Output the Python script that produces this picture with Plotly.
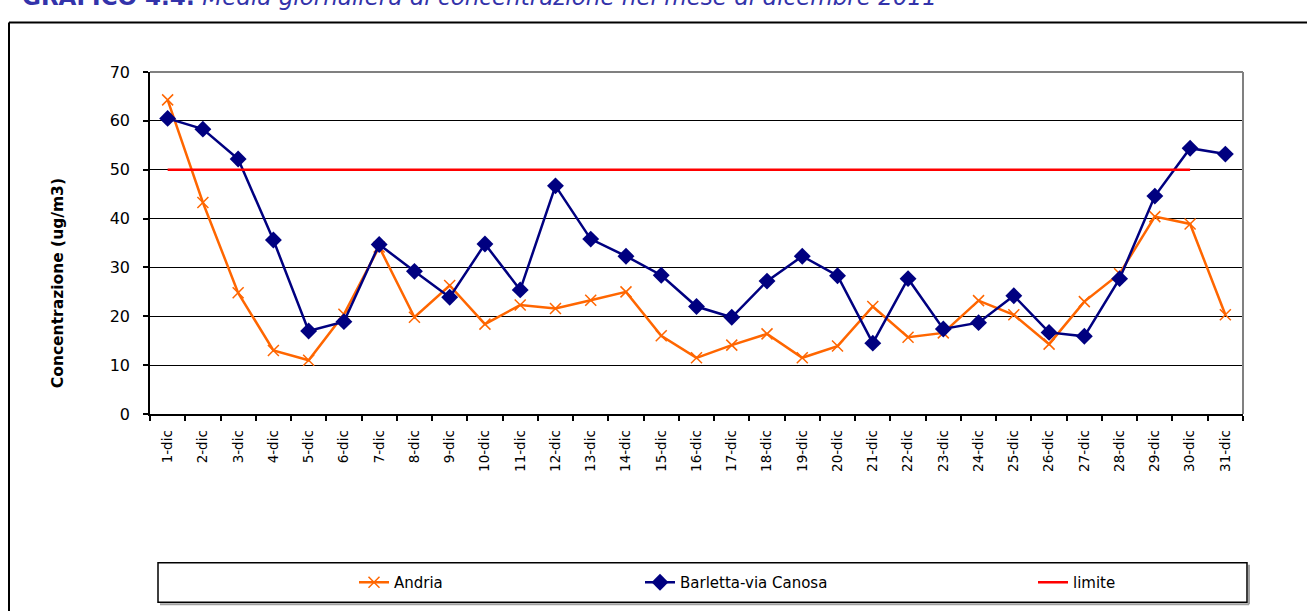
import plotly.graph_objects as go

days = [f"{i}-dic" for i in range(1, 32)]
andria = [64.3, 43.3, 24.8, 13.0, 11.0, 20.4, 34.2, 19.8, 26.3, 18.4, 22.3, 21.6, 23.3, 25.0,
          16.0, 11.5, 14.1, 16.4, 11.5, 13.9, 22.0, 15.7, 16.6, 23.2, 20.3, 14.3, 23.0, 28.7,
          40.4, 38.9, 20.3]
barletta = [60.5, 58.3, 52.2, 35.6, 17.0, 18.9, 34.7, 29.2, 23.9, 34.8, 25.4, 46.7, 35.8, 32.3,
            28.4, 22.0, 19.8, 27.2, 32.3, 28.3, 14.5, 27.7, 17.4, 18.7, 24.2, 16.7, 15.9, 27.7,
            44.6, 54.4, 53.2]
limite = [50] * 30 + [None]
y_ticks = [0, 10, 20, 30, 40, 50, 60, 70]

W, H = 1307, 611
L, R, T, B = 150, 1243, 72, 417
pw, ph = R - L, B - T


def px(x):
    return (x - L) / pw


def py(y):
    return (B - y) / ph


FONT = "Liberation Sans, Arial, sans-serif"
WFONT = "DejaVu Sans, Verdana, sans-serif"

fig = go.Figure()
fig.add_trace(go.Scatter(
    x=days, y=andria, name="Andria", mode="lines+markers",
    line=dict(color="#FF6600", width=2.5),
    marker=dict(symbol="x-thin", size=11, line=dict(color="#FF6600", width=1.5)),
    legend="legend"))
fig.add_trace(go.Scatter(
    x=days, y=barletta, name="Barletta-via Canosa", mode="lines+markers",
    line=dict(color="#000080", width=2.5),
    marker=dict(symbol="diamond", size=13, color="#000080"),
    legend="legend2"))
fig.add_trace(go.Scatter(
    x=days, y=limite, name="limite", mode="lines",
    line=dict(color="#FF0000", width=2.5),
    legend="legend3"))

leg_common = dict(orientation="h", yanchor="middle", y=py(587), xanchor="left",
                  bgcolor="rgba(0,0,0,0)", borderwidth=0,
                  font=dict(family=WFONT, size=15, color="black"))

fig.update_layout(
    width=W, height=H,
    margin=dict(l=L, r=W - R, t=T, b=H - B),
    paper_bgcolor="white", plot_bgcolor="white",
    font=dict(family=FONT, color="black"),
    showlegend=True,
    legend=dict(leg_common, x=px(354)),
    legend2=dict(leg_common, x=px(640)),
    legend3=dict(leg_common, x=px(1033)),
    xaxis=dict(
        type="category", range=[-0.5, 30.5], tickson="boundaries",
        ticks="outside", ticklen=5, tickcolor="black", tickwidth=1.5,
        ticklabelstandoff=9,
        showline=True, linecolor="black", linewidth=1.5, mirror=False,
        tickangle=-90, tickfont=dict(family=WFONT, size=13.5, color="black"),
        showgrid=False, fixedrange=True),
    yaxis=dict(
        range=[0, 70], tickvals=y_ticks, ticks="outside", ticklen=5,
        tickcolor="black", tickwidth=1.5, ticklabelstandoff=10,
        showline=True, linecolor="black", linewidth=1.5,
        showgrid=True, gridcolor="black", gridwidth=1,
        tickfont=dict(family=WFONT, size=16, color="black"),
        zeroline=False, fixedrange=True),
)

shapes = [
    # plot area top and right border (grey)
    dict(type="line", xref="paper", yref="paper", x0=0, x1=1, y0=1, y1=1,
         line=dict(color="#808080", width=2)),
    dict(type="line", xref="paper", yref="paper", x0=1, x1=1, y0=0, y1=1,
         line=dict(color="#808080", width=2)),
    # outer chart border
    dict(type="line", xref="paper", yref="paper", x0=px(9), x1=px(1320), y0=py(22), y1=py(22),
         line=dict(color="black", width=2)),
    dict(type="line", xref="paper", yref="paper", x0=px(9), x1=px(9), y0=py(22), y1=py(620),
         line=dict(color="black", width=2)),
    # legend box
    dict(type="rect", xref="paper", yref="paper", x0=px(158), x1=px(1247), y0=py(607), y1=py(567),
         line=dict(color="black", width=1.5)),
    dict(type="line", xref="paper", yref="paper", x0=px(160), x1=px(1249), y0=py(609), y1=py(609),
         line=dict(color="#A0A0A0", width=2)),
    dict(type="line", xref="paper", yref="paper", x0=px(1249), x1=px(1249), y0=py(569), y1=py(609),
         line=dict(color="#A0A0A0", width=2)),
]
fig.update_layout(shapes=shapes)

fig.add_annotation(
    text="Concentrazione (ug/m3)", xref="paper", yref="paper", x=px(58), y=py(285),
    textangle=-90, showarrow=False, xanchor="center", yanchor="middle",
    font=dict(family=WFONT, size=15.5, color="black", weight="bold"))

fig.add_annotation(
    text="<b>GRAFICO 4.4:</b> <i>Media giornaliera di concentrazione nel mese di dicembre 2011</i>",
    xref="paper", yref="paper", x=px(20), y=py(-4), xanchor="left", yanchor="middle",
    showarrow=False, font=dict(family=WFONT, size=23, color="#3333AA"))

fig.write_html("out.html", config={"displayModeBar": False},
               post_script="document.body.style.margin='0';document.body.style.padding='0';")
